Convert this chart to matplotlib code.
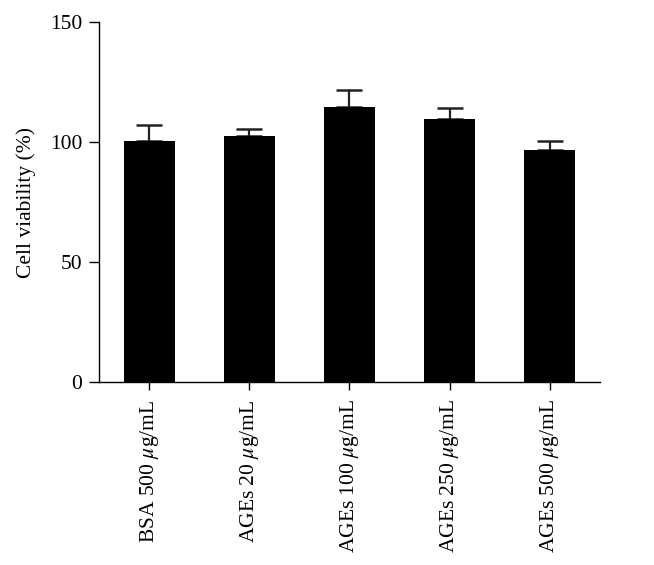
import matplotlib.pyplot as plt

plt.rcParams['font.family'] = 'Liberation Serif'
plt.rcParams['mathtext.fontset'] = 'stix'

labels = ["BSA 500 $\\mu$g/mL", "AGEs 20 $\\mu$g/mL", "AGEs 100 $\\mu$g/mL",
          "AGEs 250 $\\mu$g/mL", "AGEs 500 $\\mu$g/mL"]
viability = [100.6, 102.4, 114.6, 109.5, 96.5]
sd = [6.4, 3.2, 7.1, 4.5, 3.9]

fig = plt.figure(figsize=(6.54, 5.65), dpi=100)
ax = fig.add_axes([0.1514, 0.3239, 0.766, 0.6371])

x = range(len(labels))
ax.bar(x, viability, width=0.51, color='black', zorder=2)
# only the upper half of the error bar is shown
ax.errorbar(x, viability, yerr=[[0] * len(sd), sd], fmt='none', ecolor='#222222',
            elinewidth=1.6, capsize=9.5, capthick=1.8, zorder=1)

ax.set_xlim(-0.5, 4.5)
ax.set_ylim(0, 150)
ax.set_yticks([0, 50, 100, 150])
ax.set_xticks(list(x))
ax.set_xticklabels(labels, rotation=90, fontsize=15.5)
ax.tick_params(axis='y', labelsize=15.5, length=7, width=1, pad=5)
ax.tick_params(axis='x', length=5.5, width=1, pad=7)
ax.set_ylabel("Cell viability (%)", fontsize=15.5, labelpad=10)

for s in ['top', 'right']:
    ax.spines[s].set_visible(False)
for s in ['left', 'bottom']:
    ax.spines[s].set_linewidth(1)

fig.savefig("out.png", dpi=100)
